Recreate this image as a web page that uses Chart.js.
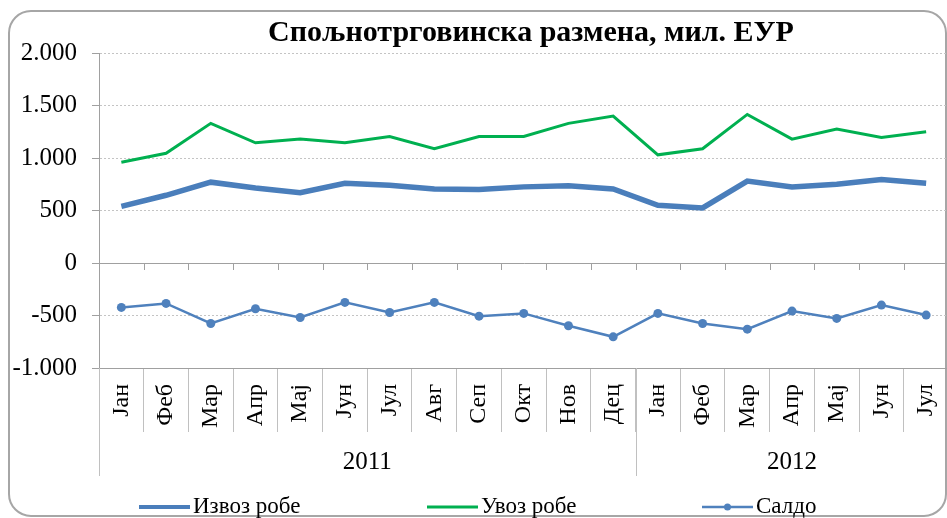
<!DOCTYPE html>
<html>
<head>
<meta charset="utf-8">
<script src="https://cdn.jsdelivr.net/npm/chart.js@4.4.1/dist/chart.umd.min.js"></script>
<style>
    html, body { margin: 0; padding: 0; background: #fff; overflow: hidden; }
    #chart-area { position: relative; width: 953px; height: 518px; }
</style>
</head>
<body>
<div id="chart-area"><canvas id="chart"></canvas></div>
<script>
'use strict';

const months = ['Јан', 'Феб', 'Мар', 'Апр', 'Мај', 'Јун', 'Јул', 'Авг', 'Сеп', 'Окт', 'Нов', 'Дец',
    'Јан', 'Феб', 'Мар', 'Апр', 'Мај', 'Јун', 'Јул'];
const years = ['2011', '2012'];
const yearSpans = [12, 7];

const exportValues = [540, 645, 770, 715, 670, 760, 740, 705, 700, 725, 735, 705,
    550, 525, 780, 725, 750, 795, 760];
const importValues = [960, 1045, 1330, 1145, 1180, 1145, 1205, 1088, 1205, 1205, 1330, 1400,
    1030, 1088, 1415, 1180, 1275, 1195, 1250];
const saldoValues = [-423, -385, -576, -436, -519, -375, -471, -375, -506, -480, -598, -703,
    -480, -576, -630, -458, -528, -401, -496];

const yTickValues = [-1000, -500, 0, 500, 1000, 1500, 2000];
const yTickLabels = ['-1.000', '-500', '0', '500', '1.000', '1.500', '2.000'];

const seriesNames = ['Извоз робе', 'Увоз робе', 'Салдо'];
const titleText = 'Спољнотрговинска размена, мил. ЕУР';

const serif = "'Liberation Serif', 'DejaVu Serif', serif";
const axisGray = '#a0a0a0';

// рамка, наслов и бела позадина
const framePlugin = {
    id: 'frame',
    beforeDraw: (chart) => {
        const ctx = chart.ctx;
        ctx.save();
        ctx.fillStyle = '#fff';
        ctx.fillRect(0, 0, chart.width, chart.height);
        ctx.strokeStyle = '#a6a6a6';
        ctx.lineWidth = 2;
        ctx.beginPath();
        ctx.roundRect(9, 11, 937, 505, 22);
        ctx.stroke();
        ctx.fillStyle = '#000';
        ctx.font = `bold 30px ${serif}`;
        ctx.textAlign = 'center';
        ctx.textBaseline = 'middle';
        ctx.fillText(titleText, 531, 33);
        ctx.restore();
    }
};

// цртице на нули, године и легенда
const axisExtrasPlugin = {
    id: 'axisExtras',
    afterDraw: (chart) => {
        const ctx = chart.ctx;
        const x = chart.scales.x;
        const y = chart.scales.y;
        const half = (x.getPixelForValue(1) - x.getPixelForValue(0)) / 2;
        const y0 = y.getPixelForValue(0);
        ctx.save();
        ctx.strokeStyle = axisGray;
        ctx.lineWidth = 1;
        ctx.beginPath();
        for (let i = 0; i <= months.length; i++) {
            const px = Math.round(x.getPixelForValue(i) - half) + 0.5;
            ctx.moveTo(px, y0);
            ctx.lineTo(px, y0 + 7);
        }
        ctx.stroke();

        // редови са годинама
        const bottom = chart.chartArea.bottom;
        let start = 0;
        ctx.strokeStyle = '#c0c0c0';
        ctx.fillStyle = '#000';
        ctx.font = `25px ${serif}`;
        ctx.textAlign = 'center';
        ctx.textBaseline = 'middle';
        years.forEach((year, i) => {
            const left = x.getPixelForValue(start) - half;
            const right = x.getPixelForValue(start + yearSpans[i] - 1) + half;
            const px = Math.round(left) + 0.5;
            ctx.beginPath();
            ctx.moveTo(px, bottom);
            ctx.lineTo(px, bottom + 108);
            ctx.stroke();
            ctx.fillText(year, (left + right) / 2, bottom + 94);
            start += yearSpans[i];
        });

        // легенда
        const itemX = [139, 427, 702];
        const ly = 507;
        ctx.textAlign = 'left';
        ctx.font = `23px ${serif}`;
        chart.data.datasets.forEach((ds, i) => {
            ctx.strokeStyle = ds.borderColor;
            ctx.lineWidth = Math.min(ds.borderWidth, 4);
            ctx.beginPath();
            ctx.moveTo(itemX[i], ly);
            ctx.lineTo(itemX[i] + 51, ly);
            ctx.stroke();
            if (ds.pointRadius > 0) {
                ctx.fillStyle = ds.pointBackgroundColor;
                ctx.beginPath();
                ctx.arc(itemX[i] + 25.5, ly, 3.5, 0, Math.PI * 2);
                ctx.fill();
            }
            ctx.fillStyle = '#000';
            ctx.fillText(ds.label, itemX[i] + 54, ly);
        });
        ctx.restore();
    }
};

const data = {
    labels: months,
    datasets: [{
        label: seriesNames[0],
        data: exportValues,
        borderColor: '#4a7ebb',
        backgroundColor: '#4a7ebb',
        borderWidth: 5.5,
        pointRadius: 0,
        order: 2
    }, {
        label: seriesNames[1],
        data: importValues,
        borderColor: '#00b050',
        backgroundColor: '#00b050',
        borderWidth: 3,
        pointRadius: 0,
        order: 1
    }, {
        label: seriesNames[2],
        data: saldoValues,
        borderColor: '#4f81bd',
        backgroundColor: '#4f81bd',
        pointBackgroundColor: '#4f81bd',
        borderWidth: 2.5,
        pointRadius: 4.5,
        pointBorderWidth: 0,
        order: 0
    }]
};

const options = {
    responsive: true,
    maintainAspectRatio: false,
    animation: false,
    layout: {
        padding: { top: 53, right: 1, left: 0, bottom: 0 }
    },
    scales: {
        x: {
            offset: true,
            grid: {
                offset: true,
                drawOnChartArea: false,
                drawTicks: true,
                tickLength: 64,
                color: '#c0c0c0'
            },
            border: {
                display: true,
                color: axisGray
            },
            ticks: {
                autoSkip: false,
                maxRotation: 90,
                minRotation: 90,
                padding: -48,
                color: '#000',
                font: { family: serif, size: 24 }
            },
            afterFit: (scale) => { scale.height = 150; }
        },
        y: {
            min: -1000,
            max: 2000,
            grid: {
                color: (ctx) => (ctx.tick && (ctx.tick.value === 0 || ctx.tick.value === -1000)) ? axisGray : '#c4c4c4',
                tickColor: axisGray,
                tickLength: 7
            },
            border: {
                display: true,
                color: axisGray,
                dash: (ctx) => (ctx.tick && (ctx.tick.value === 0 || ctx.tick.value === -1000)) ? [] : [2, 2]
            },
            ticks: {
                stepSize: 500,
                padding: 15,
                color: '#000',
                font: { family: serif, size: 25 },
                callback: (value) => yTickLabels[yTickValues.indexOf(value)]
            },
            afterFit: (scale) => { scale.width = 99; }
        }
    },
    plugins: {
        legend: { display: false },
        title: { display: false },
        tooltip: { enabled: false }
    }
};

const config = {
    type: 'line',
    data: data,
    options: options,
    plugins: [framePlugin, axisExtrasPlugin]
};

new Chart(document.getElementById('chart'), config);
</script>
</body>
</html>
